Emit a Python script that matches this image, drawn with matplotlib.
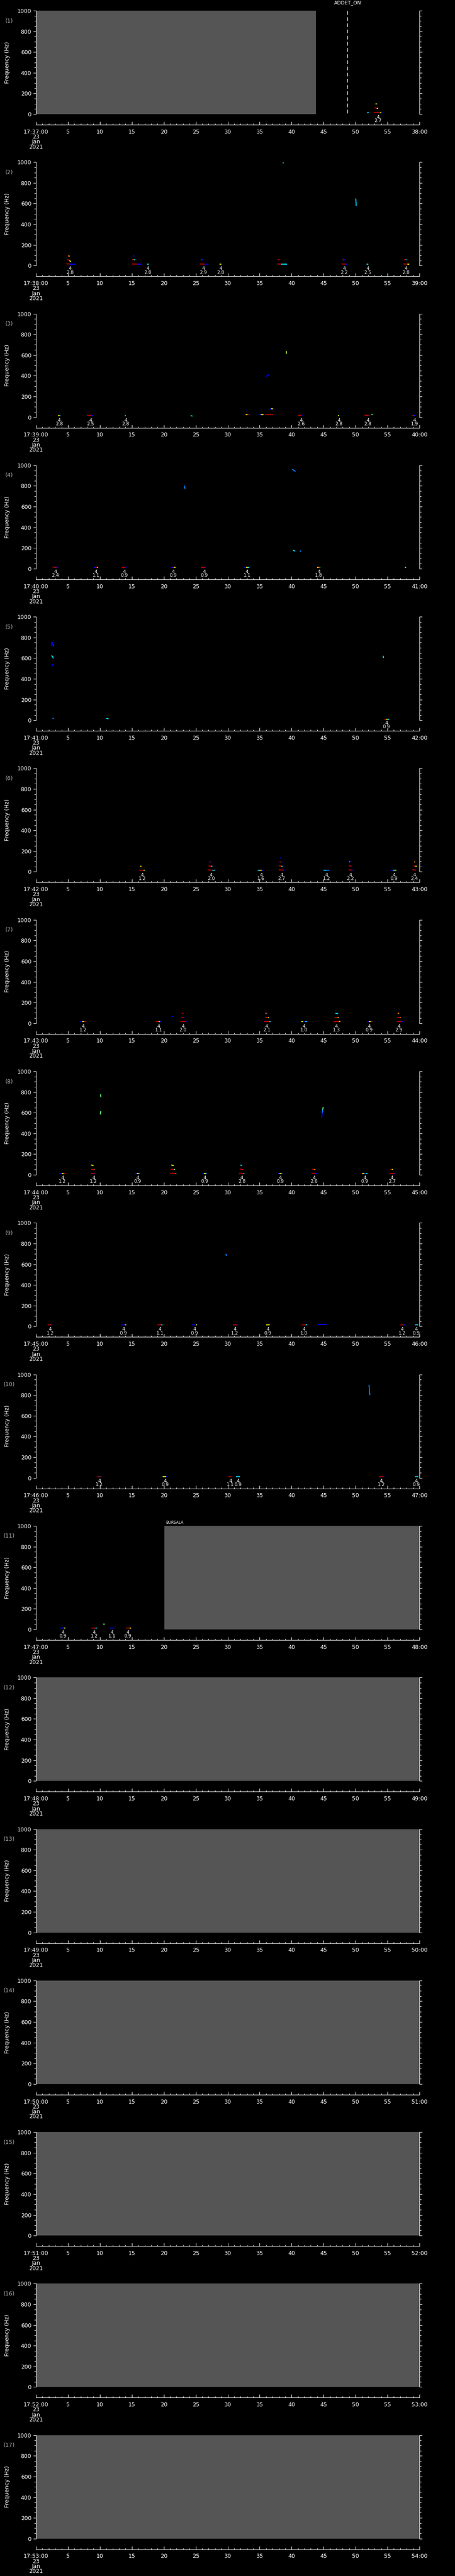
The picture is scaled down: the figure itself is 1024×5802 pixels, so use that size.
import matplotlib
matplotlib.use('Agg')
import matplotlib.pyplot as plt
from matplotlib.ticker import MultipleLocator
import matplotlib.transforms as mtransforms

# colours of the little spectral tracks
R = '#c00000'
B = '#0000ff'
LB = '#0080ff'
C = '#00e0ff'
Y = '#ffff00'
G = '#60ff80'
YG = '#c0ff40'
O = '#ff8000'
GREY = '#555555'

n_panels = 17
first_minute = 37          # 17:37:00 on panel 1
date_lines = ['23', 'Jan', '2021']

# (t0, t1, f0, f1, colour) per panel, t in seconds, f in Hz
marks_1 = [(51.8, 52.1, 15, 15, C), (52.9, 53.8, 17, 14, R), (53.8, 54.0, 14, 14, Y),
           (54.0, 54.25, 14, 14, B), (53.0, 53.35, 64, 55, R), (53.35, 53.55, 55, 55, Y),
           (53.1, 53.35, 97, 97, Y), (53.35, 53.5, 97, 97, B)]
marks_2 = [(4.75, 5.3, 18, 15, R), (5.3, 6.1, 15, 15, B), (4.9, 5.2, 61, 52, R),
           (5.25, 5.45, 50, 35, Y), (5.0, 5.3, 94, 92, O),
           (15.0, 15.9, 16, 15, R), (15.9, 16.6, 15, 15, B), (15.05, 15.3, 57, 57, R),
           (15.3, 15.5, 55, 55, C), (15.2, 15.4, 96, 92, B), (17.4, 17.65, 14, 14, C),
           (25.6, 26.4, 16, 15, R), (26.4, 27.0, 15, 15, B), (25.8, 26.0, 57, 57, R),
           (26.0, 26.2, 56, 56, B), (28.7, 29.0, 14, 14, Y),
           (37.7, 38.4, 16, 15, R), (38.4, 39.3, 15, 15, C), (37.8, 38.0, 57, 57, R),
           (38.0, 38.2, 55, 55, B), (38.6, 38.75, 995, 993, C), (50.05, 50.1, 648, 578, C),
           (47.8, 48.4, 16, 15, R), (48.4, 48.75, 15, 15, B), (47.95, 48.2, 57, 57, R),
           (48.2, 48.3, 55, 55, B), (51.7, 52.0, 14, 14, C),
           (57.5, 58.1, 16, 15, R), (58.1, 58.4, 15, 15, Y), (57.6, 57.85, 57, 57, R),
           (57.85, 58.0, 55, 55, C)]
marks_3 = [(3.45, 3.65, 15, 15, Y), (3.65, 3.8, 15, 15, C), (8.0, 8.7, 18, 15, R),
           (8.7, 8.95, 15, 15, B), (13.9, 14.05, 15, 15, C), (24.2, 24.5, 15, 10, C),
           (32.8, 33.1, 24, 24, Y), (33.1, 33.3, 24, 24, R), (33.3, 33.5, 24, 24, B),
           (34.8, 35.2, 24, 24, B), (35.2, 35.6, 24, 24, Y), (35.9, 37.1, 24, 24, R),
           (36.6, 36.8, 75, 82, B), (36.8, 37.1, 82, 80, Y), (36.0, 36.5, 395, 412, B),
           (39.15, 39.18, 640, 613, YG), (41.0, 41.5, 19, 15, R), (41.5, 41.7, 15, 15, B),
           (47.25, 47.4, 15, 15, Y), (51.4, 52.05, 19, 15, R), (52.05, 52.3, 15, 15, B),
           (52.5, 52.7, 24, 24, G), (58.9, 59.2, 15, 15, R), (59.2, 59.4, 15, 15, B)]
marks_4 = [(2.6, 3.2, 15, 12, R), (3.2, 3.5, 12, 12, B), (9.05, 9.3, 12, 12, B),
           (9.3, 9.5, 12, 12, R), (9.5, 9.7, 12, 12, C), (13.4, 13.9, 12, 12, R),
           (13.9, 14.2, 12, 12, B), (21.1, 21.4, 12, 12, B), (21.4, 21.6, 12, 12, R),
           (21.6, 21.8, 12, 12, Y), (25.8, 26.4, 12, 12, R), (26.4, 26.6, 12, 12, B),
           (32.6, 32.9, 12, 12, B), (32.9, 33.1, 12, 12, Y), (33.1, 33.35, 12, 12, C),
           (44.0, 44.2, 12, 12, Y), (44.2, 44.35, 12, 12, R), (44.35, 44.5, 12, 12, C),
           (57.7, 57.9, 12, 12, G), (23.2, 23.35, 802, 770, LB), (40.1, 40.6, 962, 940, LB),
           (40.2, 40.55, 178, 170, C), (41.3, 41.45, 165, 175, LB)]
marks_5 = [(2.45, 2.5, 756, 710, B), (2.6, 2.65, 756, 725, B), (2.7, 2.75, 722, 720, C),
           (2.45, 2.55, 626, 615, G), (2.6, 2.7, 620, 597, C), (2.5, 2.7, 523, 545, B),
           (2.6, 2.75, 20, 20, LB), (11.0, 11.35, 18, 14, C), (54.3, 54.4, 623, 602, C),
           (54.5, 54.8, 11, 11, R), (54.8, 55.0, 11, 11, Y), (55.0, 55.3, 11, 11, C)]
marks_6 = [(16.1, 16.8, 16, 16, R), (16.8, 17.05, 16, 16, Y), (16.35, 16.5, 54, 54, Y),
           (16.5, 16.65, 54, 54, B), (26.85, 27.6, 18, 16, R), (27.6, 28.0, 16, 16, C),
           (27.0, 27.4, 57, 54, R), (27.4, 27.6, 54, 54, C), (27.1, 27.3, 97, 93, R),
           (27.3, 27.45, 93, 93, B), (34.7, 35.0, 16, 16, C), (35.0, 35.3, 16, 16, Y),
           (35.3, 35.65, 16, 16, B), (37.95, 38.7, 19, 16, R), (38.7, 38.95, 16, 16, B),
           (38.0, 38.4, 58, 54, R), (38.4, 38.6, 54, 54, C), (38.1, 38.3, 97, 93, R),
           (38.3, 38.5, 93, 93, B), (38.2, 38.4, 135, 132, B), (45.0, 45.4, 16, 16, C),
           (45.4, 45.9, 16, 16, LB), (48.9, 49.5, 19, 16, R), (49.5, 49.7, 16, 16, B),
           (48.95, 49.4, 58, 54, R), (49.0, 49.15, 97, 95, O), (49.15, 49.35, 95, 95, B),
           (55.5, 55.8, 16, 16, B), (55.8, 56.1, 16, 16, C), (56.1, 56.4, 16, 16, Y),
           (58.9, 59.5, 19, 16, R), (59.05, 59.4, 58, 54, R), (59.4, 59.55, 54, 54, Y),
           (59.15, 59.3, 97, 94, O), (59.3, 59.45, 94, 94, B)]
marks_7 = [(6.9, 7.2, 17, 17, B), (7.2, 7.5, 17, 17, Y), (7.5, 7.85, 17, 17, R),
           (18.8, 19.2, 17, 17, R), (19.2, 19.4, 17, 17, Y), (19.4, 19.6, 17, 17, B),
           (21.2, 21.5, 67, 67, B), (22.6, 23.35, 17, 17, R), (23.35, 23.6, 17, 17, B),
           (22.75, 23.1, 58, 54, R), (23.1, 23.25, 54, 54, B), (22.8, 23.0, 99, 95, R),
           (23.0, 23.15, 95, 95, B), (35.7, 36.5, 17, 17, R), (36.5, 36.7, 17, 17, C),
           (35.85, 36.3, 58, 54, R), (36.3, 36.4, 54, 54, Y), (35.9, 36.1, 99, 95, O),
           (36.1, 36.2, 95, 95, B), (41.5, 41.8, 17, 17, Y), (41.8, 42.1, 17, 17, B),
           (42.1, 42.4, 17, 17, C), (46.6, 47.4, 17, 17, R), (47.4, 47.6, 17, 17, Y),
           (46.75, 47.2, 57, 54, R), (47.2, 47.35, 54, 54, Y), (46.85, 47.25, 96, 94, C),
           (51.8, 52.1, 17, 17, B), (52.1, 52.35, 17, 17, Y), (52.35, 52.6, 17, 17, R),
           (56.45, 57.2, 17, 17, R), (57.2, 57.45, 17, 17, B), (56.5, 56.95, 58, 54, R),
           (56.95, 57.1, 54, 54, O), (56.6, 56.8, 99, 95, O), (56.8, 56.95, 95, 95, B)]
marks_8 = [(3.7, 4.0, 13, 13, B), (4.0, 4.3, 13, 13, Y), (4.3, 4.6, 13, 13, R),
           (8.55, 9.2, 14, 13, R), (9.2, 9.4, 13, 13, B), (8.6, 9.05, 51, 51, R),
           (9.05, 9.15, 51, 51, O), (8.6, 9.0, 95, 90, Y), (10.1, 10.15, 778, 751, G),
           (10.05, 10.15, 584, 618, G), (15.5, 15.8, 13, 13, B), (15.8, 16.05, 13, 13, Y),
           (16.05, 16.3, 13, 13, LB), (21.0, 21.8, 15, 13, R), (21.8, 22.0, 13, 13, C),
           (21.05, 21.6, 55, 51, R), (21.6, 21.75, 51, 51, G), (21.15, 21.55, 95, 90, Y),
           (26.0, 26.3, 13, 13, B), (26.3, 26.55, 13, 13, Y), (26.55, 26.8, 13, 13, LB),
           (31.75, 32.5, 15, 13, R), (32.5, 32.6, 13, 13, C), (31.9, 32.4, 55, 51, R),
           (31.95, 32.25, 95, 90, C), (37.8, 38.1, 13, 13, B), (38.1, 38.35, 13, 13, Y),
           (38.35, 38.6, 13, 13, LB), (43.1, 43.8, 15, 13, R), (43.8, 44.0, 13, 13, B),
           (43.2, 43.5, 55, 51, R), (43.5, 43.7, 51, 51, O), (44.7, 44.8, 553, 600, B),
           (44.8, 44.85, 600, 630, LB), (44.85, 44.95, 630, 656, G),
           (51.05, 51.35, 13, 13, Y), (51.35, 51.6, 13, 13, B), (51.6, 51.85, 13, 13, C),
           (55.3, 56.1, 15, 13, R), (56.1, 56.3, 13, 13, B), (55.45, 55.7, 55, 51, R),
           (55.7, 55.85, 51, 51, Y)]
marks_9 = [(1.8, 2.4, 13, 13, R), (2.4, 2.6, 13, 13, B), (13.3, 13.9, 13, 13, B),
           (13.9, 14.1, 13, 13, Y), (19.0, 19.6, 13, 13, R), (19.6, 19.8, 13, 13, C),
           (24.4, 25.0, 13, 13, B), (25.0, 25.2, 13, 13, Y), (29.7, 29.8, 700, 680, LB),
           (30.8, 31.4, 13, 13, R), (31.4, 31.6, 13, 13, B), (36.0, 36.6, 13, 13, Y),
           (41.6, 42.2, 13, 13, R), (42.2, 42.4, 13, 13, C), (44.0, 45.5, 20, 20, B),
           (57.0, 57.6, 13, 13, R), (57.6, 57.8, 13, 13, B), (59.3, 59.8, 13, 13, C)]
marks_10 = [(9.5, 10.1, 13, 13, R), (10.1, 10.3, 13, 13, B), (19.8, 20.4, 13, 13, Y),
            (20.4, 20.6, 13, 13, B), (30.1, 30.6, 13, 13, R), (31.3, 31.9, 13, 13, C),
            (52.1, 52.25, 900, 800, LB), (53.7, 54.3, 13, 13, R), (54.3, 54.5, 13, 13, B),
            (59.3, 59.8, 13, 13, C)]
marks_11 = [(3.8, 4.4, 13, 13, B), (4.4, 4.6, 13, 13, Y), (8.7, 9.3, 13, 13, R),
            (9.3, 9.5, 13, 13, C), (10.5, 10.8, 50, 50, G), (11.6, 12.2, 13, 13, B),
            (14.1, 14.7, 13, 13, R), (14.7, 14.9, 13, 13, Y)]

all_marks = [marks_1, marks_2, marks_3, marks_4, marks_5, marks_6, marks_7, marks_8,
             marks_9, marks_10, marks_11, [], [], [], [], [], []]

# detection labels below each panel: time (s) and magnitude text
ann_times = [
    [53.5],
    [5.35, 17.5, 26.2, 28.9, 48.25, 51.9, 57.9],
    [3.62, 8.5, 14.0, 41.5, 47.4, 51.9, 59.25],
    [3.06, 9.4, 13.8, 21.45, 26.3, 33.0, 44.25],
    [54.85],
    [16.6, 27.4, 35.2, 38.45, 45.45, 49.2, 56.0, 59.2],
    [7.35, 19.2, 23.0, 36.1, 41.9, 47.0, 52.1, 56.8],
    [4.14, 9.0, 15.9, 26.4, 32.2, 38.2, 43.5, 51.45, 55.7],
    [2.2, 13.7, 19.4, 24.8, 31.1, 36.3, 41.9, 57.3, 59.5],
    [9.9, 20.2, 30.4, 31.6, 54.0, 59.5],
    [4.2, 9.1, 11.9, 14.4],
    [], [], [], [], [], [],
]
ann_mags = [
    ['2.7'],
    ['2.8', '2.8', '2.9', '2.8', '2.2', '2.5', '2.8'],
    ['2.8', '2.5', '2.8', '2.6', '2.8', '2.8', '1.9'],
    ['2.4', '1.1', '0.9', '0.9', '0.9', '1.1', '1.8'],
    ['0.9'],
    ['1.2', '2.0', '1.6', '2.7', '1.2', '2.2', '0.9', '2.4'],
    ['1.2', '1.1', '2.0', '2.1', '1.0', '1.3', '0.9', '2.9'],
    ['1.2', '1.2', '0.9', '0.9', '2.8', '0.9', '2.6', '0.9', '2.7'],
    ['1.2', '0.9', '1.1', '0.9', '1.2', '0.9', '1.0', '1.2', '0.9'],
    ['1.2', '0.9', '1.1', '0.9', '1.2', '0.9'],
    ['0.9', '1.2', '1.1', '0.9'],
    [], [], [], [], [], [],
]

# no-data intervals (grey), seconds
gray_spans = [[(0.0, 43.8)], [], [], [], [], [], [], [], [], [],
              [(20.1, 60.0)], [(0.0, 60.0)], [(0.0, 60.0)], [(0.0, 60.0)],
              [(0.0, 60.0)], [(0.0, 60.0)], [(0.0, 60.0)]]

# vertical event markers: (panel index, time, label)
vlines = [(0, 48.75, 'ADDET_ON')]
top_labels = [(10, 20.3, 'BURSALA')]

W, H = 1024, 5802
PH = H / n_panels

plt.rcParams['font.family'] = ['DejaVu Sans']
fig = plt.figure(figsize=(W / 100, H / 100), dpi=100, facecolor='black')

for k in range(n_panels):
    y0 = k * PH
    ax = fig.add_axes([81 / W, 1 - (y0 + 257) / H, (944 - 81) / W, 233 / H])
    ax.set_facecolor('black')
    ax.set_xlim(0, 60)
    ax.set_ylim(0, 1000)

    for s0, s1 in gray_spans[k]:
        ax.axvspan(s0, s1, color=GREY, zorder=0, lw=0)

    for t0, t1, f0, f1, col in all_marks[k]:
        ax.plot([t0, t1], [f0, f1], color=col, lw=1.6, solid_capstyle='butt')

    for t, m in zip(ann_times[k], ann_mags[k]):
        ax.annotate('4\n' + m, xy=(t, 0), xytext=(0, -1.5), textcoords='offset points',
                    ha='center', va='top', fontsize=7.5, color='white',
                    linespacing=0.78, annotation_clip=False)

    trans = mtransforms.blended_transform_factory(ax.transData, ax.transAxes)
    for p, t, lab in vlines:
        if p == k:
            ax.axvline(t, ymin=0.01, ymax=1, color='white', lw=1, ls=(0, (6, 4)))
            ax.text(t, 1.077, lab, transform=trans, ha='center', va='center',
                    fontsize=8, color='white')
    for p, t, lab in top_labels:
        if p == k:
            ax.text(t, 1.03, lab, transform=trans, ha='left', va='center',
                    fontsize=6, color='white')

    # axes styling
    ax.spines['top'].set_visible(False)
    for side in ['left', 'right', 'bottom']:
        ax.spines[side].set_color('white')
        ax.spines[side].set_linewidth(0.8)
    ax.spines['bottom'].set_position(('outward', 24 * 0.72))

    ax.xaxis.set_major_locator(MultipleLocator(5))
    ax.xaxis.set_minor_locator(MultipleLocator(1))
    ax.yaxis.set_major_locator(MultipleLocator(200))
    ax.yaxis.set_minor_locator(MultipleLocator(50))

    minute = first_minute + k
    xlabels = ['17:%02d:00\n' % minute + '\n'.join(date_lines)]
    xlabels += [str(v) for v in range(5, 60, 5)]
    xlabels += ['%02d:00' % (minute + 1)]
    ax.set_xticks(range(0, 61, 5))
    ax.set_xticklabels(xlabels, linespacing=0.83)

    ax.tick_params(axis='x', which='major', direction='in', length=5, width=0.8,
                   colors='white', labelsize=9, pad=7)
    ax.tick_params(axis='x', which='minor', direction='in', length=2.5, width=0.8,
                   colors='white')
    ax.tick_params(axis='y', which='major', direction='out', length=4.5, width=0.8,
                   left=True, right=True, colors='white', labelsize=9, pad=3)
    ax.tick_params(axis='y', which='minor', direction='out', length=3, width=0.8,
                   left=True, right=True, colors='white')

    ax.set_ylabel('Frequency (Hz)', color='white', fontsize=9)
    ax.yaxis.set_label_coords(-(81 - 23) / 863, 0.5)

    fig.text(21 / W, 1 - (y0 + 47) / H, '(%d)' % (k + 1), color='#b0b0b0',
             fontsize=9, ha='center', va='center')

fig.savefig('out.png', dpi=100, facecolor='black')
